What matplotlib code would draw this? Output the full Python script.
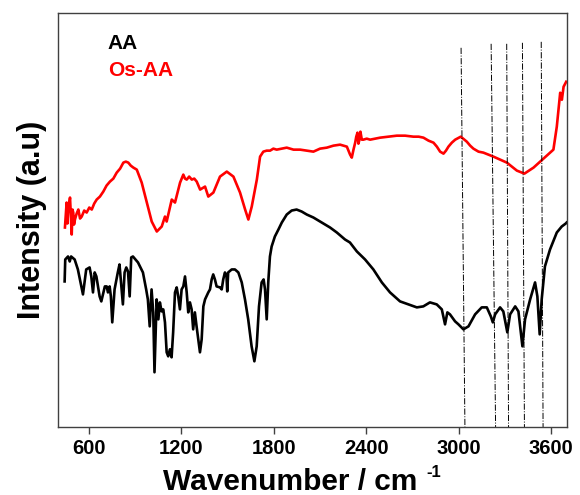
import matplotlib
matplotlib.use('Agg')
import matplotlib.pyplot as plt

plt.rcParams['font.family'] = ['Liberation Sans', 'DejaVu Sans']
plt.rcParams['font.weight'] = 'bold'

# AA spectrum (black)
aa_wn = [443, 447, 465, 476, 485, 508, 529, 562, 583, 605, 616, 627, 638, 649, 670, 681,
         704, 716, 724, 735, 743, 752, 767, 788, 799, 812, 821, 832, 843, 854, 865, 875,
         886, 919, 951, 972, 983, 995, 1007, 1018, 1026, 1040, 1051, 1061, 1072, 1083,
         1094, 1105, 1115, 1126, 1137, 1147, 1159, 1170, 1180, 1191, 1202, 1213, 1224,
         1235, 1245, 1256, 1267, 1277, 1288, 1299, 1310, 1321, 1332, 1343, 1354, 1375,
         1386, 1397, 1407, 1418, 1429, 1451, 1462, 1472, 1483, 1493, 1498, 1504, 1527,
         1548, 1570, 1592, 1613, 1634, 1656, 1674, 1689, 1704, 1721, 1734, 1743, 1754,
         1764, 1775, 1786, 1807, 1830, 1852, 1884, 1916, 1948, 1981, 2014, 2057, 2111,
         2165, 2209, 2262, 2294, 2339, 2392, 2446, 2501, 2554, 2619, 2673, 2728, 2770,
         2813, 2857, 2890, 2911, 2926, 2943, 2976, 2998, 3030, 3063, 3106, 3149, 3182,
         3208, 3221, 3236, 3268, 3289, 3315, 3333, 3366, 3387, 3413, 3430, 3463, 3495,
         3510, 3525, 3538, 3559, 3592, 3636, 3668, 3694, 3700]
aa_int = [146, 168, 171, 166, 171, 168, 158, 133, 158, 160, 151, 135, 155, 151, 131, 126,
          141, 141, 135, 141, 131, 105, 138, 155, 163, 140, 123, 155, 160, 156, 131, 170,
          171, 165, 155, 138, 128, 101, 138, 115, 55, 128, 108, 125, 116, 118,
          105, 75, 71, 78, 70, 95, 135, 140, 131, 118, 138, 141, 151,
          135, 115, 125, 118, 98, 115, 101, 88, 75, 88, 121, 128, 135,
          138, 148, 153, 148, 141, 140, 138, 148, 155, 152, 136, 155, 158,
          158, 155, 145, 128, 108, 81, 66, 81, 121, 145, 148, 138, 108,
          145, 171, 181, 191, 198, 205, 213, 217, 218, 216, 213, 210, 205,
          200, 195, 188, 185, 176, 168, 158, 145, 135, 126, 123, 120, 121,
          125, 123, 118, 103, 115, 113, 106, 103, 98, 101, 113, 120, 120,
          111, 105, 113, 120, 116, 95, 113, 121, 116, 81, 108, 128, 145,
          131, 93, 128, 161, 178, 195, 201, 204, 205]

# Os-AA spectrum (red)
os_wn = [445, 450, 456, 461, 465, 470, 478, 484, 489, 494, 499, 504, 510, 521, 532, 543,
         554, 570, 586, 603, 619, 635, 651, 672, 694, 715, 737, 759, 781, 803, 824,
         840, 856, 872, 889, 911, 943, 976, 1008, 1041, 1073, 1094, 1105, 1138, 1159,
         1192, 1213, 1224, 1235, 1251, 1268, 1284, 1300, 1322, 1354, 1375, 1408, 1451,
         1495, 1538, 1581, 1614, 1635, 1657, 1690, 1711, 1732, 1754, 1776, 1797, 1819,
         1852, 1884, 1928, 1971, 2014, 2057, 2100, 2144, 2187, 2230, 2274, 2295, 2306,
         2317, 2328, 2335, 2343, 2349, 2354, 2362, 2371, 2381, 2403, 2425, 2457, 2490,
         2544, 2598, 2652, 2706, 2740, 2771, 2804, 2836, 2858, 2879, 2901, 2917, 2933,
         2955, 2977, 3013, 3052, 3074, 3095, 3128, 3160, 3225, 3312, 3377, 3426, 3485,
         3550, 3614, 3636, 3647, 3658, 3669, 3680, 3697]
os_int = [200, 212, 225, 204, 215, 222, 230, 210, 193, 218, 215, 203, 208, 214, 218, 209,
          211, 217, 215, 220, 218, 224, 228, 231, 236, 242, 246, 249, 255, 259, 265,
          266, 265, 262, 260, 258, 245, 225, 206, 196, 201, 211, 206, 228, 225,
          245, 253, 249, 248, 251, 248, 249, 246, 238, 241, 231, 235, 251,
          256, 251, 235, 218, 208, 221, 248, 271, 276, 277, 277, 279, 278,
          279, 280, 278, 278, 277, 276, 279, 280, 282, 283, 281, 273, 270,
          278, 285, 291, 295, 284, 287, 296, 288, 288, 289, 288, 289, 290,
          291, 292, 292, 291, 291, 290, 287, 285, 281, 276, 274, 277, 281,
          285, 288, 291, 286, 282, 279, 276, 275, 271, 265, 257, 254, 260,
          269, 278, 301, 318, 335, 328, 341, 346]

# marker lines (top and bottom wavenumber, top height)
mark_top = [3015, 3210, 3311, 3413, 3535]
mark_bot = [3040, 3239, 3323, 3426, 3547]
mark_h = [380, 384, 384, 385, 386]

fig = plt.figure(figsize=(5.8, 4.95), dpi=100)
ax = fig.add_axes([0.1, 0.137, 0.877, 0.837])

ax.plot(aa_wn, aa_int, color='black', lw=1.9)
ax.plot(os_wn, os_int, color='#ff0000', lw=1.9)
for xt, xb, h in zip(mark_top, mark_bot, mark_h):
    ax.plot([xt, xb], [h, 0], color='black', lw=0.7, ls='-.')

ax.set_xlim(400, 3700)
ax.set_ylim(0, 415)
ax.set_xticks([600, 1200, 1800, 2400, 3000, 3600])
ax.set_yticks([])
ax.tick_params(axis='x', direction='out', length=5, width=1, labelsize=14.5, colors='#404040',
               labelcolor='black')
for lab in ax.get_xticklabels():
    lab.set_fontweight('bold')
for s in ax.spines.values():
    s.set_color('#404040')
    s.set_linewidth(1.0)

fig.text(290 / 580, 5 / 495, 'Wavenumber / cm', fontsize=21.5, fontweight='bold',
         ha='center', va='baseline')
fig.text(426 / 580, 18 / 495, '-1', fontsize=12, fontweight='bold', ha='left', va='baseline')
ax.set_ylabel('Intensity (a.u)', fontsize=22, fontweight='bold', labelpad=8)

ax.text(0.098, 0.925, 'AA', transform=ax.transAxes, fontsize=15, fontweight='bold',
        color='black', va='center')
ax.text(0.098, 0.86, 'Os-AA', transform=ax.transAxes, fontsize=15, fontweight='bold',
        color='#ff0000', va='center')

fig.savefig('out.png', dpi=100)
